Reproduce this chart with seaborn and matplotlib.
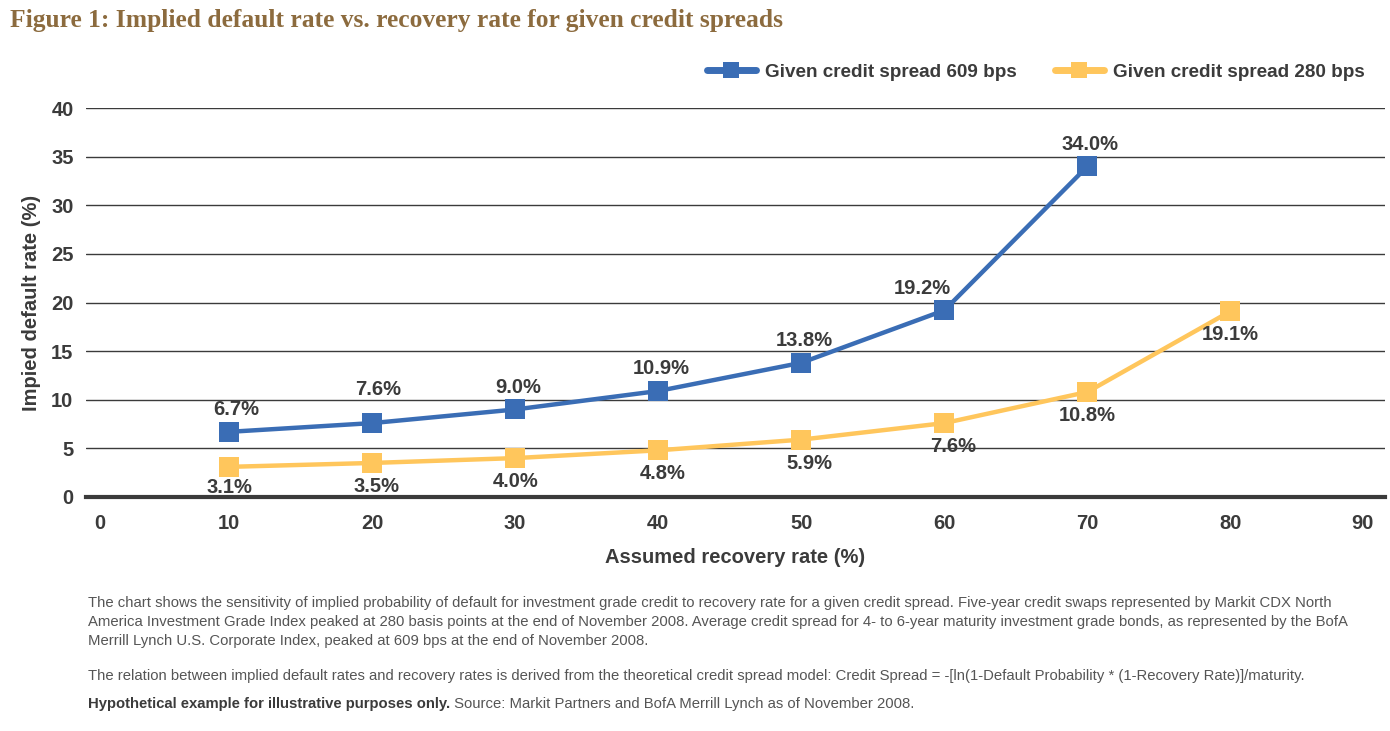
import pandas as pd
import matplotlib.pyplot as plt
import matplotlib.transforms as mtrans
import seaborn as sns

# chart values
recovery = [10, 20, 30, 40, 50, 60, 70, 80]
spread_609 = [6.7, 7.6, 9.0, 10.9, 13.8, 19.2, 34.0, None]
spread_280 = [3.1, 3.5, 4.0, 4.8, 5.9, 7.6, 10.8, 19.1]
series_names = ['Given credit spread 609 bps', 'Given credit spread 280 bps']
x_ticks = [0, 10, 20, 30, 40, 50, 60, 70, 80, 90]
y_ticks = [0, 5, 10, 15, 20, 25, 30, 35, 40]

note_lines = [
    'The chart shows the sensitivity of implied probability of default for investment grade credit to recovery rate '
    'for a given credit spread. Five-year credit swaps represented by Markit CDX North',
    'America Investment Grade Index peaked at 280 basis points at the end of November 2008. Average credit spread '
    'for 4- to 6-year maturity investment grade bonds, as represented by the BofA',
    'Merrill Lynch U.S. Corporate Index, peaked at 609 bps at the end of November 2008.',
    'The relation between implied default rates and recovery rates is derived from the theoretical credit spread '
    'model: Credit Spread = -[ln(1-Default Probability * (1-Recovery Rate)]/maturity.',
]
note_y = [603, 622, 641, 676]
bold_note = 'Hypothetical example for illustrative purposes only.'
source_note = ' Source: Markit Partners and BofA Merrill Lynch as of November 2008.'

blue = '#3A6DB5'
gold = '#FFC65C'
dark = '#3B3B3B'
W, H = 1390, 731

sns.set_theme(style='white')
plt.rcParams['font.family'] = ['Liberation Sans', 'DejaVu Sans']

df = pd.DataFrame({'recovery': recovery, series_names[0]: spread_609, series_names[1]: spread_280})

fig = plt.figure(figsize=(13.9, 7.31), dpi=100)
ax = fig.add_axes([86 / W, 1 - 497 / H, (1385 - 86) / W, (497 - 108) / H])

for name, color in zip(series_names, [blue, gold]):
    sub = df.dropna(subset=[name])
    sns.lineplot(data=sub, x='recovery', y=name, ax=ax, color=color, lw=3.2,
                 marker='s', markersize=14, markeredgewidth=0, label=name)

ax.set_xlim(0, 90.8)
ax.set_ylim(0, 40)
ax.set_xticks(x_ticks)
ax.set_yticks(y_ticks)
ax.tick_params(axis='both', length=0, labelsize=14.5, colors=dark)
ax.tick_params(axis='x', pad=12)
ax.tick_params(axis='y', pad=9)
for lab in ax.get_xticklabels() + ax.get_yticklabels():
    lab.set_fontweight('bold')
xl = ax.get_xticklabels()
xl[0].set_transform(xl[0].get_transform() + mtrans.ScaledTranslation(14 / 100, 0, fig.dpi_scale_trans))
xl[-1].set_transform(xl[-1].get_transform() + mtrans.ScaledTranslation(-11 / 100, 0, fig.dpi_scale_trans))
ax.grid(axis='y', color=dark, lw=1)
ax.set_axisbelow(True)
for s in ['top', 'right', 'left']:
    ax.spines[s].set_visible(False)
ax.spines['bottom'].set_color(dark)
ax.spines['bottom'].set_linewidth(3)

ax.set_xlabel('Assumed recovery rate (%)', fontsize=14.5, fontweight='bold', color=dark, labelpad=11)
ax.set_ylabel('Impied default rate (%)', fontsize=14.5, fontweight='bold', color=dark, labelpad=7)

# value labels
for x, v in zip(recovery, spread_609):
    if v is None:
        continue
    dx = {60: -16, 10: 5, 20: 4}.get(x, 2)
    dy = 17 if x == 20 else 9
    ax.annotate(f'{v:.1f}%', (x, v), xytext=(dx, dy), textcoords='offset points',
                ha='center', va='bottom', fontsize=14.5, fontweight='bold', color=dark)
for x, v in zip(recovery, spread_280):
    dx = {50: 6, 60: 6, 20: 3, 40: 3}.get(x, 0)
    dy = -8 if x == 10 else -10
    ax.annotate(f'{v:.1f}%', (x, v), xytext=(dx, dy), textcoords='offset points',
                ha='center', va='top', fontsize=14.5, fontweight='bold', color=dark)

leg = ax.legend(loc='center right', bbox_to_anchor=(1382 / W, 1 - 72 / H),
                bbox_transform=fig.transFigure, ncol=2, frameon=False,
                fontsize=13.6, handlelength=2.6, handletextpad=0.5, columnspacing=2.0,
                markerscale=0.8)
for t in leg.get_texts():
    t.set_fontweight('bold')
    t.set_color(dark)
for h in leg.legend_handles:
    h.set_linewidth(5)

fig.text(10 / W, 1 - 20 / H, 'Figure 1: Implied default rate vs. recovery rate for given credit spreads',
         family=['Liberation Serif', 'DejaVu Serif'], fontsize=18.4, fontweight='bold',
         color='#8C6B3E', va='center')

# footnotes: fit first line to the reference width
renderer = fig.canvas.get_renderer()
probe = fig.text(0, 0, note_lines[0], fontsize=10)
fs = 10 * 1247 / probe.get_window_extent(renderer).width
probe.remove()
for line, y in zip(note_lines, note_y):
    fig.text(88 / W, 1 - y / H, line, fontsize=fs, color='#555555', va='center')
b = fig.text(88 / W, 1 - 704 / H, bold_note, fontsize=fs, fontweight='bold', color=dark, va='center')
bx = b.get_window_extent(renderer).x1
fig.text(bx / W, 1 - 704 / H, source_note, fontsize=fs, color='#555555', va='center')

fig.savefig('out.png', dpi=100)
